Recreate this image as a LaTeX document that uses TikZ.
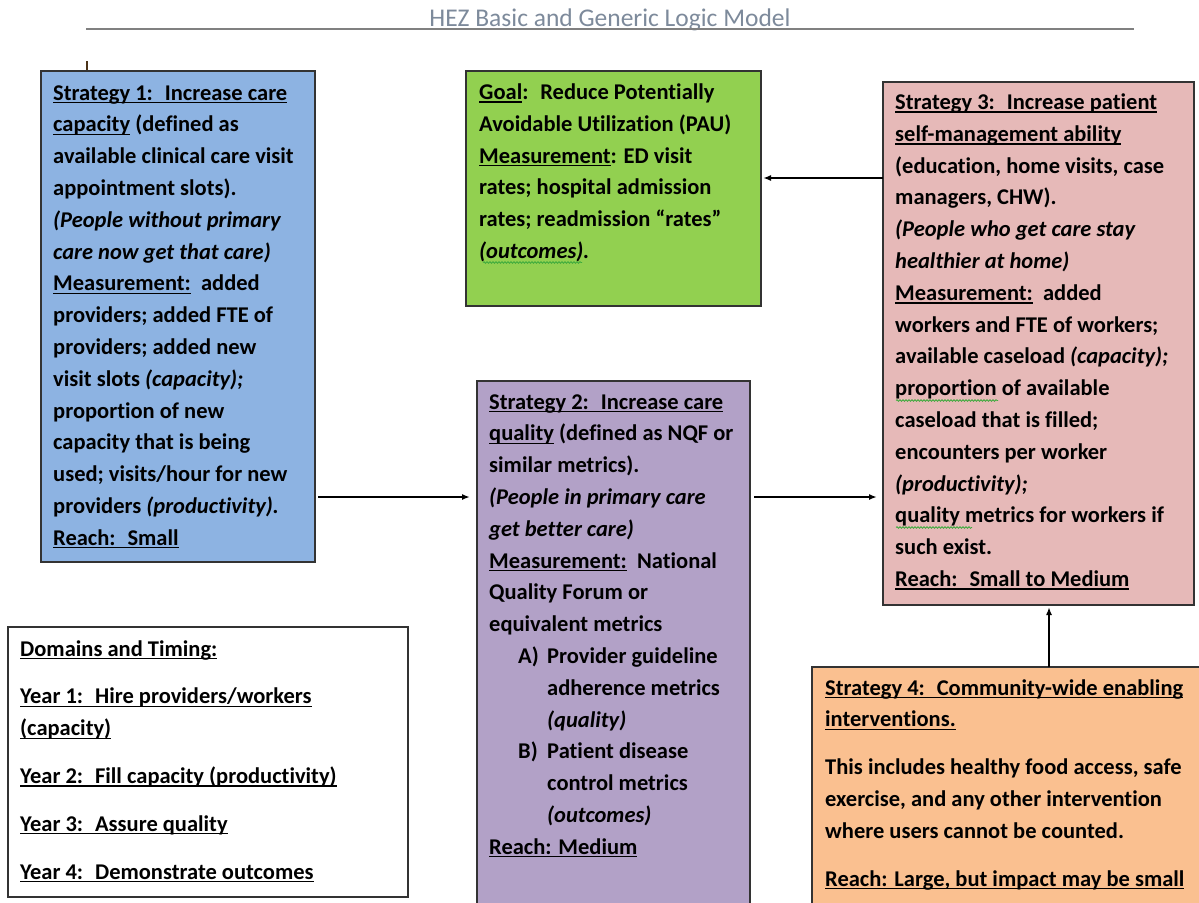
\documentclass[tikz,border=0pt]{standalone}
\usepackage{fontspec}
\setmainfont{Carlito}[Ligatures=NoCommon]
\usetikzlibrary{arrows.meta,calc,decorations.pathmorphing}
\newsavebox\ulbox
\newcommand\uline[1]{\leavevmode\sbox\ulbox{#1}\rlap{\rule[-3.2pt]{\wd\ulbox}{1.3pt}}\usebox\ulbox}
\definecolor{cblue}{RGB}{141,179,226}
\definecolor{cgreen}{RGB}{146,208,80}
\definecolor{cpink}{RGB}{230,185,184}
\definecolor{cpurple}{RGB}{178,161,199}
\definecolor{corange}{RGB}{250,192,144}
\definecolor{ctitle}{RGB}{125,138,155}
\definecolor{cspell}{RGB}{60,170,60}
\newcommand\boxtext[1]{\parbox[t]{420pt}{\fontsize{22.5}{31.8}\selectfont\bfseries\raggedright #1}}
\begin{document}
\begin{tikzpicture}[x=1pt,y=-1pt,
  box/.style={draw=black!80,line width=1.2pt,inner sep=0pt,outer sep=0pt,anchor=north west},
  txt/.style={inner sep=0pt,anchor=base west},
  arr/.style={line width=1.6pt,-{Latex[length=8pt,width=6pt]}},
  spell/.style={cspell,line width=0.8pt,decorate,decoration={snake,segment length=3pt,amplitude=0.8pt}}]
\useasboundingbox (0,0) rectangle (1199,902);
\fill[white] (0,0) rectangle (1199,902);
% title
\node[inner sep=0pt,anchor=base,text=ctitle,font=\fontsize{25.5}{30}\selectfont] (title) at (610,26) {HEZ Basic and Generic Logic Model};
\coordinate (hl) at (86,29);
\coordinate (hr) at (1134,29);
\draw[black!50,line width=1.3pt] (hl) -- (hr);
\coordinate (cur1) at (87,61);
\coordinate (cur2) at (87,80);
\draw[black!60!brown,line width=1.2pt] (cur1) -- (cur2);
% boxes
\node[box,fill=cblue,minimum width=274pt,minimum height=491pt] (s1) at (41,71) {};
\node[box,fill=cgreen,minimum width=295pt,minimum height=235pt] (goal) at (466,71) {};
\node[box,fill=cpink,minimum width=311pt,minimum height=523pt] (s3) at (883,82) {};
\node[box,fill=cpurple,minimum width=273pt,minimum height=529pt] (s2) at (477,381) {};
\node[box,fill=white,minimum width=400pt,minimum height=270pt] (dom) at (8,627) {};
\node[box,fill=corange,minimum width=393pt,minimum height=243pt] (s4) at (812,667) {};
% texts
\node[txt] (s1t) at (53,100) {\boxtext{%
\uline{Strategy 1:~ Increase care}\\
\uline{capacity} (defined as\\
available clinical care visit\\
appointment slots).\\
\textit{(People without primary}\\
\textit{care now get that care)}\\
\uline{Measurement:}~ added\\
providers; added FTE of\\
providers; added new\\
visit slots \textit{(capacity);}\\
proportion of new\\
capacity that is being\\
used; visits/hour for new\\
providers \textit{(productivity).}\\
\uline{Reach:~ Small}}};
\node[txt] (goalt) at (479,99.5) {\boxtext{%
\uline{Goal}:~ Reduce Potentially\\
Avoidable Utilization (PAU)\\
\uline{Measurement}: ED visit\\
rates; hospital admission\\
rates; readmission “rates”\\
\textit{(outcomes).}}};
\node[txt] (s3t) at (895,109.5) {\boxtext{%
\uline{Strategy 3:~ Increase patient}\\
\uline{self-management ability}\\
(education, home visits, case\\
managers, CHW).\\
\textit{(People who get care stay}\\
\textit{healthier at home)}\\
\uline{Measurement:}~ added\\
workers and FTE of workers;\\
available caseload \textit{(capacity);}\\
proportion of available\\
caseload that is filled;\\
encounters per worker\\
\textit{(productivity);}\\
quality metrics for workers if\\
such exist.\\
\uline{Reach:~ Small to Medium}}};
\node[txt] (s2t) at (489,409) {\boxtext{%
\uline{Strategy 2:~ Increase care}\\
\uline{quality} (defined as NQF or\\
similar metrics).\\
\textit{(People in primary care}\\
\textit{get better care)}\\
\uline{Measurement:}~ National\\
Quality Forum or\\
equivalent metrics\\
\hspace*{29pt}\makebox[29pt][l]{A)}Provider guideline\\
\hspace*{58pt}adherence metrics\\
\hspace*{58pt}\textit{(quality)}\\
\hspace*{29pt}\makebox[29pt][l]{B)}Patient disease\\
\hspace*{58pt}control metrics\\
\hspace*{58pt}\textit{(outcomes)}\\
\uline{Reach: Medium}}};
\node[txt] (domt) at (20,656) {\boxtext{%
\uline{Domains and Timing:}\\[16pt]
\uline{Year 1:~ Hire providers/workers}\\
\uline{(capacity)}\\[16pt]
\uline{Year 2:~ Fill capacity (productivity)}\\[16pt]
\uline{Year 3:~ Assure quality}\\[16pt]
\uline{Year 4:~ Demonstrate outcomes}}};
\node[txt] (s4t) at (825,695) {\boxtext{%
\uline{Strategy 4:~ Community-wide enabling}\\
\uline{interventions.}\\[16pt]
This includes healthy food access, safe\\
exercise, and any other intervention\\
where users cannot be counted.\\[16pt]
\uline{Reach: Large, but impact may be small}}};
% spell-check marks
\coordinate (sp1a) at (483,262.5); \coordinate (sp1b) at (582,262.5);
\coordinate (sp2a) at (896,400.5); \coordinate (sp2b) at (998,400.5);
\coordinate (sp3a) at (896,527.5); \coordinate (sp3b) at (972,527.5);
\draw[spell] (sp1a) -- (sp1b);
\draw[spell] (sp2a) -- (sp2b);
\draw[spell] (sp3a) -- (sp3b);
% connectors
\draw[arr,shorten <=3pt,shorten >=7pt] (s1.east |- 0,497) -- (s2.west |- 0,497);
\draw[arr,shorten <=4pt,shorten >=6pt] (s2.east |- 0,497) -- (s3.west |- 0,497);
\draw[arr,shorten >=2pt] (s3.west |- 0,178) -- (goal.east |- 0,178);
\draw[arr,shorten >=2pt] (s4.north -| 1049,0) -- (s3.south -| 1049,0);
\end{tikzpicture}
\end{document}
